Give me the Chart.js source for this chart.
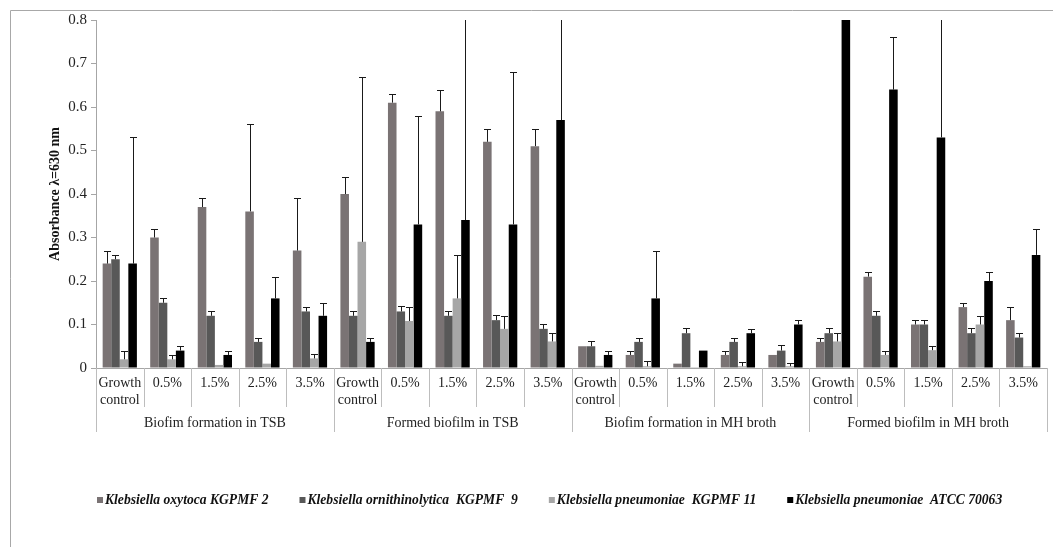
<!DOCTYPE html>
<html>
<head>
<meta charset="utf-8">
<script src="https://cdn.jsdelivr.net/npm/chart.js@4.4.1/dist/chart.umd.min.js"></script>
<style>
  html, body { margin: 0; padding: 0; background: #fff; }
</style>
</head>
<body>
<canvas id="grafico" width="1053" height="547"></canvas>
<script>
// categorias del eje x
const categories = [
  ['Growth', 'control'], '0.5%', '1.5%', '2.5%', '3.5%',
  ['Growth', 'control'], '0.5%', '1.5%', '2.5%', '3.5%',
  ['Growth', 'control'], '0.5%', '1.5%', '2.5%', '3.5%',
  ['Growth', 'control'], '0.5%', '1.5%', '2.5%', '3.5%'
];
const groups = ['Biofim formation in TSB', 'Formed biofilm in TSB', 'Biofim formation in MH broth', 'Formed biofilm in MH broth'];
const yTickLabels = ['0', '0.1', '0.2', '0.3', '0.4', '0.5', '0.6', '0.7', '0.8'];

const seriesNames = [
  'Klebsiella oxytoca KGPMF 2',
  'Klebsiella ornithinolytica  KGPMF  9',
  'Klebsiella pneumoniae  KGPMF 11',
  'Klebsiella pneumoniae  ATCC 70063'
];

const oxytoca   = [0.24, 0.30, 0.37, 0.36, 0.27, 0.40, 0.61, 0.59, 0.52, 0.51, 0.05, 0.03, 0.01, 0.03, 0.03, 0.06, 0.21, 0.10, 0.14, 0.11];
const oxytocaSd = [0.03, 0.02, 0.02, 0.20, 0.12, 0.04, 0.02, 0.05, 0.03, 0.04, 0, 0.01, 0, 0.01, 0, 0.01, 0.01, 0.01, 0.01, 0.03];

const ornith    = [0.25, 0.15, 0.12, 0.06, 0.13, 0.12, 0.13, 0.12, 0.11, 0.09, 0.05, 0.06, 0.08, 0.06, 0.04, 0.08, 0.12, 0.10, 0.08, 0.07];
const ornithSd  = [0.01, 0.012, 0.011, 0.01, 0.01, 0.011, 0.012, 0.011, 0.012, 0.012, 0.013, 0.01, 0.011, 0.01, 0.012, 0.011, 0.012, 0.01, 0.011, 0.011];

const pneu11    = [0.02, 0.02, 0.007, 0.01, 0.022, 0.29, 0.108, 0.16, 0.09, 0.061, 0.005, 0.004, 0.002, 0.004, 0.004, 0.061, 0.03, 0.041, 0.10, 0.004];
const pneu11Sd  = [0.02, 0.01, 0, 0, 0.011, 0.38, 0.032, 0.10, 0.03, 0.019, 0, 0.011, 0, 0.009, 0.008, 0.02, 0.009, 0.01, 0.02, 0];

const atcc      = [0.24, 0.04, 0.03, 0.16, 0.12, 0.06, 0.33, 0.34, 0.33, 0.57, 0.03, 0.16, 0.04, 0.08, 0.10, 0.85, 0.64, 0.53, 0.20, 0.26];
const atccSd    = [0.29, 0.01, 0.01, 0.05, 0.03, 0.01, 0.25, 0.60, 0.35, 0.40, 0.01, 0.11, 0, 0.01, 0.01, 0.10, 0.12, 0.40, 0.02, 0.06];

const colores = ['#7a7374', '#585858', '#a6a6a6', '#000000'];

const serif = '"Liberation Serif", "Times New Roman", serif';

// barras de error (solo hacia arriba)
const errorBars = {
  id: 'errorBars',
  afterDatasetsDraw(chart) {
    const ctx = chart.ctx;
    const area = chart.chartArea;
    const y = chart.scales.y;
    ctx.save();
    ctx.beginPath();
    ctx.rect(area.left, area.top, area.right - area.left, area.bottom - area.top);
    ctx.clip();
    ctx.strokeStyle = '#1a1a1a';
    ctx.lineWidth = 1;
    chart.data.datasets.forEach((ds, d) => {
      const meta = chart.getDatasetMeta(d);
      meta.data.forEach((bar, i) => {
        const sd = ds.errores[i];
        if (!sd) return;
        const yTop = Math.round(y.getPixelForValue(ds.data[i] + sd)) + 0.5;
        const x = Math.round(bar.x) + 0.5;
        ctx.beginPath();
        ctx.moveTo(x, bar.y);
        ctx.lineTo(x, yTop);
        ctx.moveTo(x - 3.5, yTop);
        ctx.lineTo(x + 3.5, yTop);
        ctx.stroke();
      });
    });
    ctx.restore();
  }
};

// separadores del eje x, marco y leyenda
const extras = {
  id: 'extras',
  afterDraw(chart) {
    const ctx = chart.ctx;
    const xs = chart.scales.x;
    const bottom = chart.chartArea.bottom;
    const n = categories.length;
    const w = (xs.right - xs.left) / n;
    ctx.save();
    ctx.strokeStyle = '#bdbdbd';
    ctx.lineWidth = 1;
    for (let i = 0; i <= n; i++) {
      const x = Math.round(xs.left + i * w) + 0.5;
      ctx.beginPath();
      ctx.moveTo(x, bottom);
      ctx.lineTo(x, bottom + (i % 5 === 0 ? 64 : 39));
      ctx.stroke();
    }
    // marco
    ctx.strokeStyle = '#a8a8a8';
    ctx.beginPath();
    ctx.moveTo(10.5, chart.height);
    ctx.lineTo(10.5, 10.5);
    ctx.lineTo(chart.width, 10.5);
    ctx.stroke();

    // leyenda
    ctx.font = 'italic bold 13.6px ' + serif;
    ctx.textBaseline = 'middle';
    ctx.textAlign = 'left';
    let lx = chart.chartArea.left + 1;
    const ly = 500;
    chart.data.datasets.forEach((ds) => {
      ctx.fillStyle = ds.backgroundColor;
      ctx.fillRect(lx, ly - 3, 6, 6);
      ctx.fillStyle = '#111';
      ctx.fillText(ds.label, lx + 8, ly);
      lx += 8 + ctx.measureText(ds.label).width + 31;
    });
    ctx.restore();
  }
};

const ctx = document.getElementById('grafico').getContext('2d');
const chart = new Chart(ctx, {
  type: 'bar',
  data: {
    labels: categories,
    datasets: [
      { label: seriesNames[0], data: oxytoca, errores: oxytocaSd, backgroundColor: colores[0] },
      { label: seriesNames[1], data: ornith, errores: ornithSd, backgroundColor: colores[1] },
      { label: seriesNames[2], data: pneu11, errores: pneu11Sd, backgroundColor: colores[2] },
      { label: seriesNames[3], data: atcc, errores: atccSd, backgroundColor: colores[3] }
    ]
  },
  options: {
    responsive: false,
    animation: false,
    layout: { padding: { left: 0, right: 6, top: 20, bottom: 0 } },
    datasets: {
      bar: { categoryPercentage: 0.72, barPercentage: 1.0, borderWidth: 0 }
    },
    plugins: {
      legend: { display: false },
      tooltip: { enabled: false }
    },
    scales: {
      x: {
        type: 'category',
        offset: true,
        grid: { display: false, drawTicks: false },
        border: { display: true, color: '#a6a6a6' },
        ticks: {
          autoSkip: false,
          maxRotation: 0,
          padding: 7,
          color: '#222',
          font: { family: serif, size: 14 }
        },
        afterFit: (s) => { s.height = 36; }
      },
      x2: {
        type: 'category',
        position: 'bottom',
        labels: groups,
        offset: true,
        grid: { display: false, drawTicks: false },
        border: { display: false },
        ticks: {
          autoSkip: false,
          maxRotation: 0,
          padding: 11,
          color: '#222',
          font: { family: serif, size: 14 }
        },
        afterFit: (s) => { s.height = 143; }
      },
      y: {
        min: 0,
        max: 0.8,
        grid: { display: true, drawOnChartArea: false, drawTicks: true, tickLength: 5, color: '#a6a6a6' },
        border: { display: true, color: '#a6a6a6' },
        ticks: {
          stepSize: 0.1,
          padding: 4,
          color: '#222',
          font: { family: serif, size: 15 },
          callback: (v, i) => yTickLabels[i]
        },
        title: {
          display: true,
          text: 'Absorbance λ=630 nm',
          color: '#111',
          font: { family: serif, size: 14, weight: 'bold' },
          padding: { top: 47, bottom: 0 }
        },
        afterFit: (s) => { s.width = 96; }
      }
    }
  },
  plugins: [errorBars, extras]
});
</script>
</body>
</html>
